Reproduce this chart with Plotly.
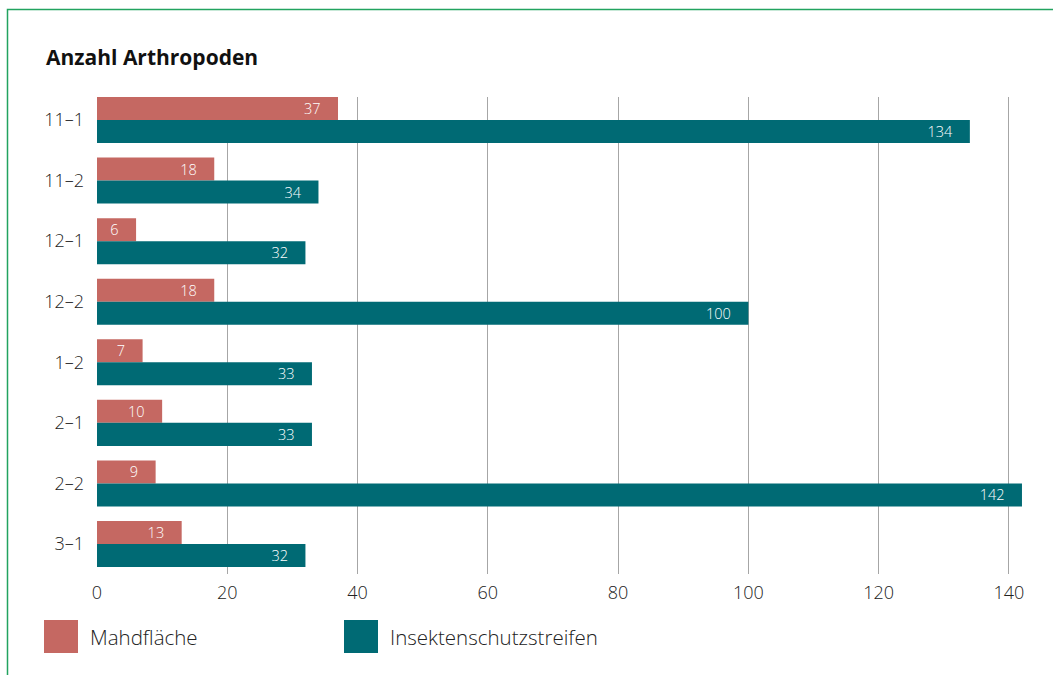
import plotly.graph_objects as go

categories = ["11–1", "11–2", "12–1", "12–2", "1–2", "2–1", "2–2", "3–1"]
mahd = [37, 18, 6, 18, 7, 10, 9, 13]
insekt = [134, 34, 32, 100, 33, 33, 142, 32]
series_names = ["Mahdfläche", "Insektenschutzstreifen"]
colors = ["#C56862", "#006A74"]
x_ticks = [0, 20, 40, 60, 80, 100, 120, 140]

W, H = 1053, 675
L, R, T, B = 97, 18, 97, 101
FONT = "Open Sans"

fig = go.Figure()
for name, vals, col in zip(series_names, [mahd, insekt], colors):
    fig.add_trace(go.Bar(
        y=categories, x=vals, name=name, orientation="h",
        marker=dict(color=col, line=dict(width=0)),
        text=[str(v) + "\u2002\u2002" for v in vals], textposition="inside", textangle=0,
        insidetextanchor="end", constraintext="none",
        textfont=dict(color="white", size=14.5, family=FONT, weight=300),
        showlegend=False, cliponaxis=False, hoverinfo="x+y",
    ))

fig.update_layout(
    width=W, height=H,
    margin=dict(l=L, r=R, t=T, b=B),
    paper_bgcolor="white", plot_bgcolor="white",
    barmode="group", bargap=0.24, bargroupgap=0,
    font=dict(family=FONT, color="#222222"),
    xaxis=dict(range=[0, 144], tickvals=x_ticks, showgrid=True,
               gridcolor="#A6A6A6", gridwidth=1, zeroline=False,
               showline=False, ticks="",
               tickfont=dict(size=18, color="#222222", weight=300),
               ticklabelstandoff=6),
    yaxis=dict(type="category", categoryorder="array", categoryarray=categories,
               range=[7.495, -0.38], showgrid=False, zeroline=False,
               showline=False, ticks="",
               tickfont=dict(size=18, color="#222222", weight=300),
               ticklabelstandoff=12),
)

pw, ph = W - L - R, H - T - B
def px(xp):
    return (xp - L) / pw
def py(yp):
    return (H - B - yp) / ph

fig.add_annotation(text="<b>Anzahl Arthropoden</b>", xref="paper", yref="paper",
                   x=px(44), y=py(57), xanchor="left", yanchor="middle",
                   showarrow=False,
                   font=dict(size=21, color="#111111", family=FONT))

# frame
fig.add_shape(type="rect", xref="paper", yref="paper",
              x0=px(7.5), x1=px(1070), y0=py(690), y1=py(9.5),
              line=dict(color="#22A35F", width=1.5), fillcolor="rgba(0,0,0,0)")

legend_items = [(44, 88, series_names[0], colors[0]), (344, 388, series_names[1], colors[1])]
for x0, tx, name, col in legend_items:
    fig.add_shape(type="rect", xref="paper", yref="paper",
                  x0=px(x0), x1=px(x0 + 34), y0=py(653), y1=py(620),
                  line=dict(width=0), fillcolor=col)
    fig.add_annotation(text=name, xref="paper", yref="paper",
                       x=px(tx), y=py(637), xanchor="left", yanchor="middle",
                       showarrow=False,
                       font=dict(size=20.5, color="#222222", weight=300))

fig.write_html("out.html", config={"displayModeBar": False},
               post_script="document.body.style.margin='0';document.body.style.overflow='hidden';")
